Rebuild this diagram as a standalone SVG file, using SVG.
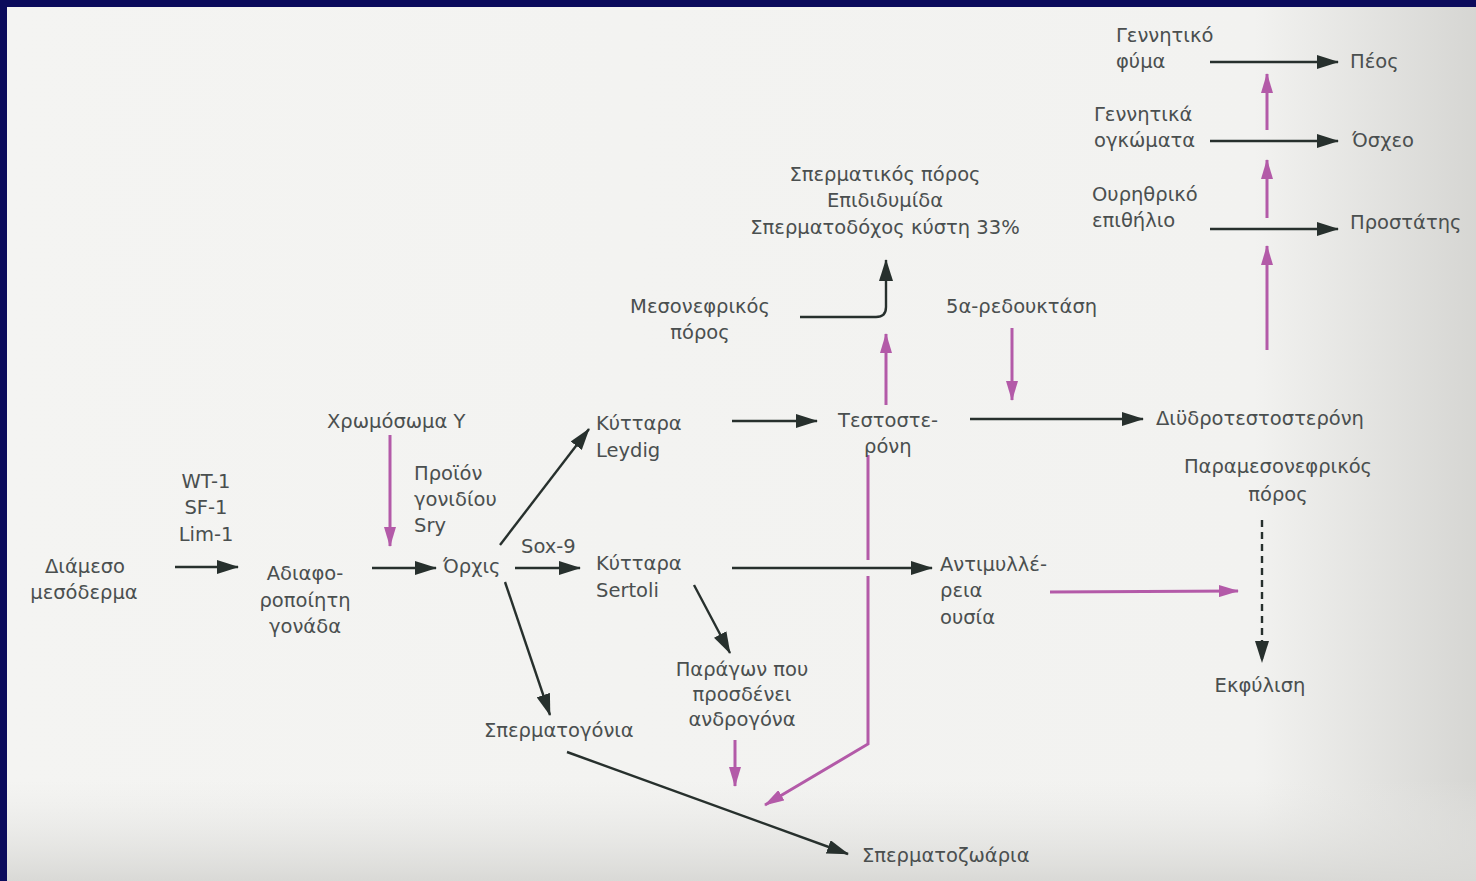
<svg xmlns="http://www.w3.org/2000/svg" width="1476" height="881" viewBox="0 0 1476 881">
<style>
text{font-family:"DejaVu Sans","Liberation Sans",sans-serif;font-size:19.5px;fill:#4a4f4f}
.d{fill:none;stroke:#27302d;stroke-width:2.4}
.m{fill:none;stroke:#b35aa8;stroke-width:3}
.c text{text-anchor:middle}
</style>
<defs>
<linearGradient id="bg" x1="0" y1="0" x2="1" y2="0">
<stop offset="0" stop-color="#f4f4f2"/><stop offset="0.85" stop-color="#f2f2f0"/><stop offset="1" stop-color="#d6d6d3"/>
</linearGradient>
<linearGradient id="bt" x1="0" y1="0" x2="0" y2="1">
<stop offset="0" stop-color="#e8e8e6" stop-opacity="0"/><stop offset="1" stop-color="#d9d9d6"/>
</linearGradient>
<marker id="ad" markerUnits="userSpaceOnUse" markerWidth="22" markerHeight="14" refX="21" refY="7" orient="auto"><path d="M0,0 L22,7 L0,14 z" fill="#27302d"/></marker>
<marker id="am" markerUnits="userSpaceOnUse" markerWidth="20" markerHeight="12" refX="19" refY="6" orient="auto"><path d="M0,0 L20,6 L0,12 z" fill="#b35aa8"/></marker>
</defs>
<rect width="1476" height="881" fill="url(#bg)"/>
<rect y="780" width="1476" height="101" fill="url(#bt)"/>
<rect width="1476" height="7" fill="#0b0b5c"/>
<rect width="7" height="881" fill="#0b0b5c"/>

<g id="connectors">
<line class="d" x1="1210" y1="62" x2="1338" y2="62" marker-end="url(#ad)"/>
<line class="d" x1="1210" y1="141" x2="1338" y2="141" marker-end="url(#ad)"/>
<line class="d" x1="1210" y1="229" x2="1338" y2="229" marker-end="url(#ad)"/>
<line class="m" x1="1267" y1="130" x2="1267" y2="74" marker-end="url(#am)"/>
<line class="m" x1="1267" y1="218" x2="1267" y2="160" marker-end="url(#am)"/>
<line class="m" x1="1267" y1="350" x2="1267" y2="246" marker-end="url(#am)"/>
<path class="d" d="M800,317 L876,317 Q886,317 886,307 L886,260" marker-end="url(#ad)"/>
<line class="m" x1="886" y1="405" x2="886" y2="334" marker-end="url(#am)"/>
<line class="m" x1="1012" y1="328" x2="1012" y2="400" marker-end="url(#am)"/>
<line class="d" x1="732" y1="421" x2="817" y2="421" marker-end="url(#ad)"/>
<line class="d" x1="970" y1="419" x2="1143" y2="419" marker-end="url(#ad)"/>
<line class="d" x1="1262" y1="520" x2="1262" y2="662" stroke-dasharray="7,5" marker-end="url(#ad)"/>
<line class="m" x1="1050" y1="592" x2="1238" y2="591" marker-end="url(#am)"/>
<path class="m" d="M868,455 L868,560 M868,576 L868,744 L765,805" marker-end="url(#am)"/>
<line class="d" x1="732" y1="568" x2="932" y2="568" marker-end="url(#ad)"/>
<line class="d" x1="515" y1="568" x2="580" y2="568" marker-end="url(#ad)"/>
<line class="d" x1="500" y1="545" x2="589" y2="429" marker-end="url(#ad)"/>
<line class="d" x1="505" y1="582" x2="550" y2="715" marker-end="url(#ad)"/>
<line class="d" x1="694" y1="585" x2="730" y2="653" marker-end="url(#ad)"/>
<line class="m" x1="735" y1="740" x2="735" y2="786" marker-end="url(#am)"/>
<line class="d" x1="567" y1="752" x2="848" y2="854" marker-end="url(#ad)"/>
<line class="m" x1="390" y1="435" x2="390" y2="546" marker-end="url(#am)"/>
<line class="d" x1="372" y1="568" x2="436" y2="568" marker-end="url(#ad)"/>
<line class="d" x1="175" y1="567" x2="238" y2="567" marker-end="url(#ad)"/>
</g>

<g id="genital-tubercle"><text x="1116" y="42">Γεννητικό</text><text x="1116" y="68">φύμα</text></g>
<g id="penis"><text x="1350" y="68">Πέος</text></g>
<g id="genital-swellings"><text x="1094" y="121">Γεννητικά</text><text x="1094" y="147">ογκώματα</text></g>
<g id="scrotum"><text x="1352" y="147">Όσχεο</text></g>
<g id="urethral-epithelium"><text x="1092" y="201">Ουρηθρικό</text><text x="1092" y="227">επιθήλιο</text></g>
<g id="prostate"><text x="1350" y="229">Προστάτης</text></g>
<g id="wolffian-derivatives" class="c"><text x="885" y="181">Σπερματικός πόρος</text><text x="885" y="207">Επιδιδυμίδα</text><text x="885" y="234">Σπερματοδόχος κύστη 33%</text></g>
<g id="mesonephric-duct" class="c"><text x="700" y="313">Μεσονεφρικός</text><text x="700" y="339">πόρος</text></g>
<g id="reductase"><text x="946" y="313">5α-ρεδουκτάση</text></g>
<g id="testosterone"><text x="838" y="427">Τεστοστε-</text><text x="864" y="453">ρόνη</text></g>
<g id="dht"><text x="1156" y="425">Διϋδροτεστοστερόνη</text></g>
<g id="paramesonephric-duct" class="c"><text x="1278" y="473">Παραμεσονεφρικός</text><text x="1278" y="501">πόρος</text></g>
<g id="degeneration" class="c"><text x="1260" y="692">Εκφύλιση</text></g>
<g id="amh"><text x="940" y="571">Αντιμυλλέ-</text><text x="940" y="597">ρεια</text><text x="940" y="624">ουσία</text></g>
<g id="leydig"><text x="596" y="430">Κύτταρα</text><text x="596" y="457">Leydig</text></g>
<g id="sertoli"><text x="596" y="570">Κύτταρα</text><text x="596" y="597">Sertoli</text></g>
<g id="sox9"><text x="521" y="553">Sox-9</text></g>
<g id="testis"><text x="443" y="573">Όρχις</text></g>
<g id="abp" class="c"><text x="742" y="676">Παράγων που</text><text x="742" y="701">προσδένει</text><text x="742" y="726">ανδρογόνα</text></g>
<g id="spermatogonia"><text x="484" y="737">Σπερματογόνια</text></g>
<g id="spermatozoa"><text x="862" y="862">Σπερματοζωάρια</text></g>
<g id="chromosome-y"><text x="327" y="428">Χρωμόσωμα Y</text></g>
<g id="sry"><text x="414" y="480">Προϊόν</text><text x="414" y="506">γονιδίου</text><text x="414" y="532">Sry</text></g>
<g id="indifferent-gonad" class="c"><text x="305" y="580">Αδιαφο-</text><text x="305" y="607">ροποίητη</text><text x="305" y="633">γονάδα</text></g>
<g id="factors" class="c"><text x="206" y="488">WT-1</text><text x="206" y="514">SF-1</text><text x="206" y="541">Lim-1</text></g>
<g id="intermediate-mesoderm" class="c"><text x="85" y="573">Διάμεσο</text><text x="84" y="599">μεσόδερμα</text></g>
</svg>
